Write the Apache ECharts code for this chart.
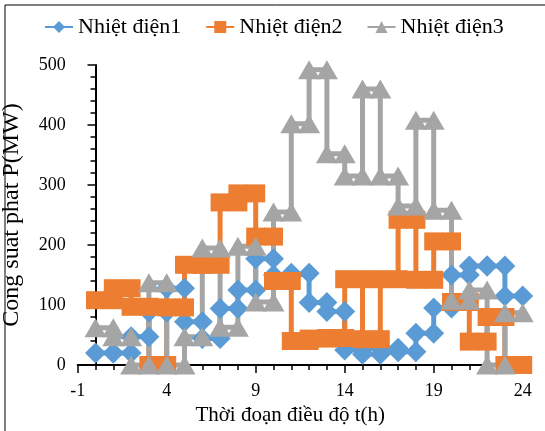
<!DOCTYPE html>
<html><head><meta charset="utf-8">
<script src="https://cdn.jsdelivr.net/npm/echarts@6/dist/echarts.min.js"></script>
<style>html,body{margin:0;padding:0;background:#fff}#c{width:545px;height:431px}</style>
</head><body><div id="c"></div>
<script>
// Hours 1..24; each hour's value is drawn as a flat step from t-1 to t
const hours = [1,2,3,4,5,6,7,8,9,10,11,12,13,14,15,16,17,18,19,20,21,22,23,24];
const seriesNames = ['Nhiệt điện1', 'Nhiệt điện2', 'Nhiệt điện3'];
const nhietDien1 = [20,20,47,88,128,72,44,94,125,177,150,153,104,89,25,18,28,22,53,95,150,165,165,115];
const nhietDien2 = [108,128,97,0,96,167,167,271,286,214,140,40,44,45,143,43,143,242,142,206,105,39,80,0];
const nhietDien3 = [62,47,0,137,0,47,195,63,198,105,255,402,492,352,315,460,315,265,408,258,108,125,0,87];
const xTickLabels = [-1,4,9,14,19,24];
const yTickLabels = [0,100,200,300,400,500];
const xTitle = 'Thời đoạn điều độ t(h)';
const yTitle = 'Cong suat phat P(MW)';

function stepPoints(vals){
  const pts = [];
  vals.forEach((v,i)=>{ pts.push([hours[i]-1, v]); pts.push([hours[i], v]); });
  return pts;
}
const FONT = 'Liberation Serif';
const colors = ['#5B9BD5','#ED7D31','#A5A5A5'];
const symbols = ['diamond','rect','triangle'];
const symSizes = [[21,21],[19,18],[22,19]];
const widths = [5,5,5];
const dataSets = [nhietDien1, nhietDien2, nhietDien3];

const chart = echarts.init(document.getElementById('c'), null, {renderer:'canvas'});
chart.setOption({
  animation:false,
  backgroundColor:'#fff',
  graphic:[{type:'rect', shape:{x:5,y:5,width:560,height:450}, style:{fill:'none', stroke:'#000', lineWidth:1}, silent:true, z:100}],
  legend:{
    left:39, top:11, itemWidth:28, itemHeight:15, itemGap:24,
    textStyle:{fontFamily:FONT, fontSize:22, color:'#000'},
    data:seriesNames
  },
  grid:{left:77.7, right:22.3, top:65, bottom:66, containLabel:false, outerBoundsMode:'none'},
  xAxis:{
    type:'value', min:xTickLabels[0], max:xTickLabels[xTickLabels.length-1], interval:5,
    name:xTitle, nameLocation:'middle', nameGap:36,
    nameTextStyle:{fontFamily:FONT, fontSize:21, color:'#000', padding:[0,20,0,0]},
    axisLine:{onZero:false, lineStyle:{color:'#000', width:2}},
    axisTick:{show:true, length:8, lineStyle:{color:'#000', width:1.5}},
    minorTick:{show:true, splitNumber:5, length:5, lineStyle:{color:'#000', width:1.5}},
    axisLabel:{fontFamily:FONT, fontSize:18, color:'#000', margin:17},
    splitLine:{show:false}
  },
  yAxis:{
    type:'value', min:yTickLabels[0], max:yTickLabels[yTickLabels.length-1], interval:100,
    name:yTitle, nameLocation:'middle', nameGap:54, nameMoveOverlap:false,
    nameTextStyle:{fontFamily:FONT, fontSize:24, color:'#000'},
    axisLine:{show:true, onZero:true, lineStyle:{color:'#000', width:2}},
    axisTick:{show:true, length:8, lineStyle:{color:'#000', width:1.5}},
    minorTick:{show:true, splitNumber:5, length:5, lineStyle:{color:'#000', width:1.5}},
    axisLabel:{fontFamily:FONT, fontSize:18, color:'#000', margin:12},
    splitLine:{show:false}
  },
  series: dataSets.map((d,i)=>({
    name:seriesNames[i], type:'line', data:stepPoints(d),
    symbol:symbols[i], symbolSize:symSizes[i], showAllSymbol:true,
    itemStyle:{color:colors[i], opacity:1},
    lineStyle:{color:colors[i], width:widths[i]},
    clip:false
  }))
});
</script></body></html>
